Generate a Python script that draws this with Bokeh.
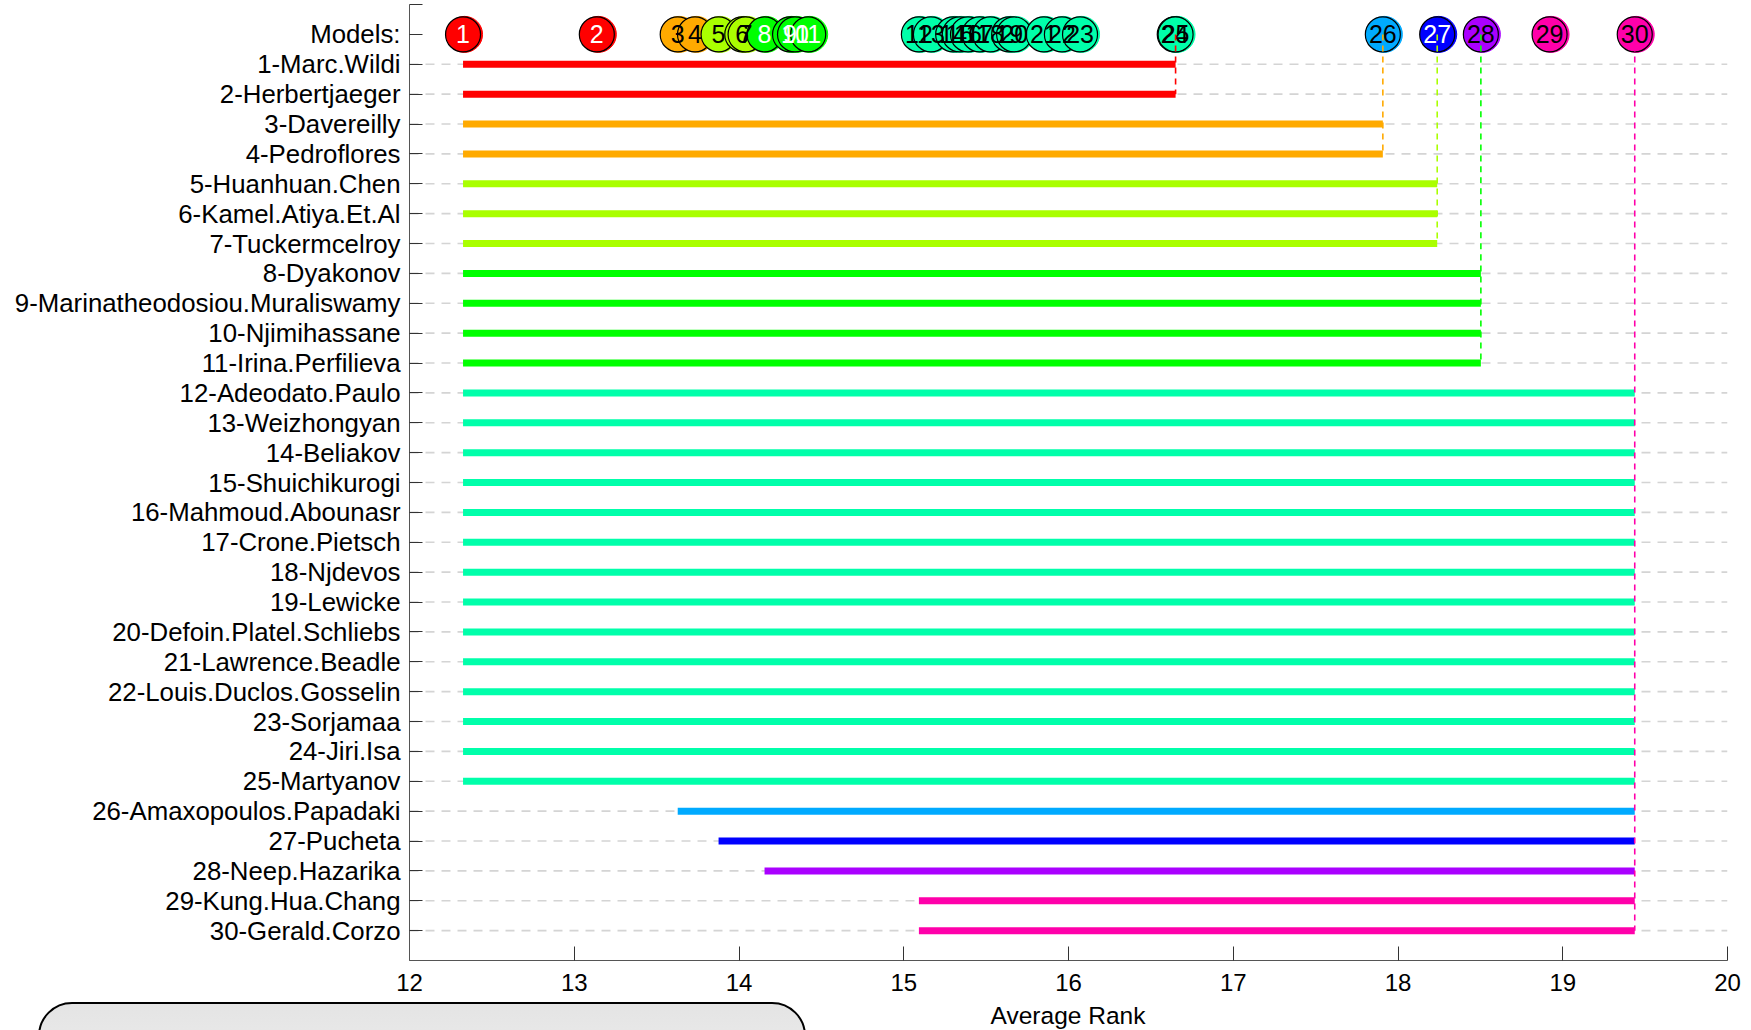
from bokeh.plotting import figure
from bokeh.layouts import column
from bokeh.models import Range1d, FixedTicker, Div
from bokeh.core.properties import value
from bokeh.embed import file_html
from bokeh.resources import INLINE

# Models and their average ranks
model_names = [
    "Marc.Wildi", "Herbertjaeger", "Davereilly", "Pedroflores", "Huanhuan.Chen",
    "Kamel.Atiya.Et.Al", "Tuckermcelroy", "Dyakonov", "Marinatheodosiou.Muraliswamy",
    "Njimihassane", "Irina.Perfilieva", "Adeodato.Paulo", "Weizhongyan", "Beliakov",
    "Shuichikurogi", "Mahmoud.Abounasr", "Crone.Pietsch", "Njdevos", "Lewicke",
    "Defoin.Platel.Schliebs", "Lawrence.Beadle", "Louis.Duclos.Gosselin", "Sorjamaa",
    "Jiri.Isa", "Martyanov", "Amaxopoulos.Papadaki", "Pucheta", "Neep.Hazarika",
    "Kung.Hua.Chang", "Gerald.Corzo",
]
avg_rank = [
    12.325, 13.137, 13.628, 13.733, 13.876, 14.020, 14.040, 14.155, 14.310, 14.340,
    14.420, 15.092, 15.165, 15.300, 15.340, 15.390, 15.460, 15.525, 15.640, 15.670,
    15.850, 15.960, 16.070, 16.645, 16.650, 17.908, 18.238, 18.503, 18.920, 19.437,
]
# Range of models not significantly different from each row's model
bar_from_model = [1] * 25 + [3, 5, 8, 12, 12]
bar_to_model = [25, 25, 26, 26, 27, 27, 27, 28, 28, 28, 28] + [30] * 19

model_colors = (
    ["#FF0000"] * 2 + ["#FFAA00"] * 2 + ["#AAFF00"] * 3 + ["#00FF00"] * 4
    + ["#00FFAA"] * 14 + ["#00AAFF", "#0000FF", "#AA00FF"] + ["#FF00AA"] * 2
)
number_colors = (
    ["white"] * 2 + ["black"] * 5 + ["white"] * 4 + ["black"] * 15
    + ["white"] + ["black"] * 3
)
x_ticks = [12, 13, 14, 15, 16, 17, 18, 19, 20]
x_title = "Average Rank"

FONT = "Liberation Sans"
X_LO, X_HI = 12, 20
W = 1751
LEFT, RIGHT, TOP, BOTTOM = 409, 24, 4, 42
FRAME_W, FRAME_H = W - LEFT - RIGHT, 956
n = len(model_names)
rows = list(range(1, n + 1))

p = figure(
    frame_width=FRAME_W, frame_height=FRAME_H,
    min_border_left=LEFT, min_border_right=RIGHT, min_border_top=TOP,
    min_border_bottom=BOTTOM,
    x_range=Range1d(X_LO, X_HI), y_range=Range1d(n + 1, -1),
    output_backend="svg", toolbar_location=None, tools="",
    background_fill_color="white", border_fill_color="white",
)
p.outline_line_color = None
p.xgrid.visible = False
p.ygrid.visible = False

# dashed row guides
p.segment(x0=[X_LO] * n, x1=[X_HI] * n, y0=rows, y1=rows,
          line_color="#d4d4d4", line_width=1.6, line_dash="9 7")

# bars spanning each model's group
bar_x0 = [avg_rank[m - 1] for m in bar_from_model]
bar_x1 = [avg_rank[m - 1] for m in bar_to_model]
p.segment(x0=bar_x0, x1=bar_x1, y0=rows, y1=rows,
          line_color=model_colors, line_width=7, line_cap="butt")

# rank markers on the "Models:" row
px = (X_HI - X_LO) / FRAME_W
p.scatter(x=[r + 1.5 * px for r in avg_rank], y=[0] * n, size=36,
          fill_color=model_colors, line_color=model_colors, line_width=1)
p.scatter(x=avg_rank, y=[0] * n, size=35,
          fill_color=model_colors, line_color="black", line_width=1.2)
p.text(x=avg_rank, y=[0] * n, text=[str(i) for i in rows],
       text_color=number_colors, text_font=value(FONT), text_font_size="25px",
       text_align="center", text_baseline="middle")

# vertical connectors from the marker of each group's upper bound
ends = {}
for r, m in zip(rows, bar_to_model):
    ends[m] = r
conn_x = [avg_rank[m - 1] for m in ends]
conn_y1 = list(ends.values())
conn_col = [model_colors[r - 1] for r in conn_y1]
p.segment(x0=conn_x, x1=conn_x, y0=[0] * len(conn_x), y1=conn_y1,
          line_color=conn_col, line_width=1.6, line_dash="6 5")

# axes
xa = p.xaxis[0]
xa.ticker = FixedTicker(ticks=x_ticks)
xa.major_tick_in = 14
xa.major_tick_out = 0
xa.minor_tick_line_color = None
xa.axis_line_color = "#555555"
xa.major_tick_line_color = "#333333"
xa.major_label_text_font = FONT
xa.major_label_text_font_size = "24px"
xa.major_label_text_color = "black"
xa.major_label_standoff = 13

ya = p.yaxis[0]
ya.ticker = FixedTicker(ticks=list(range(-1, n + 1)))
overrides = {-1: "", 0: "Models:", n + 1: ""}
for i, name in enumerate(model_names, start=1):
    overrides[i] = f"{i}-{name}"
ya.major_label_overrides = overrides
ya.major_tick_in = 13
ya.major_tick_out = 0
ya.minor_tick_line_color = None
ya.axis_line_color = "#555555"
ya.major_tick_line_color = "#333333"
ya.major_label_text_font = FONT
ya.major_label_text_font_size = "25.8px"
ya.major_label_text_color = "black"
ya.major_label_standoff = 9

# strip under the chart: x-axis title and the rounded legend panel
STRIP_H = 1030 - (TOP + FRAME_H + BOTTOM)
title_center = LEFT + FRAME_W / 2
strip_html = (
    f'<div style="position:relative;width:{W}px;height:{STRIP_H}px;">'
    f'<div style="position:absolute;left:0px;top:0px;width:{W}px;height:{STRIP_H}px;'
    'overflow:hidden;">'
    '<div style="position:absolute;left:38px;top:0px;width:768px;height:90px;'
    'box-sizing:border-box;border:2px solid #000;border-radius:34px;'
    'background:linear-gradient(#e4e4e4,#efefef);"></div>'
    '</div>'
    f'<div style="position:absolute;left:{title_center - 150:.0f}px;top:0px;width:300px;'
    f'text-align:center;font-family:\'{FONT}\';font-size:24.5px;line-height:{STRIP_H}px;'
    f'color:#000;white-space:nowrap;">{x_title}</div>'
    '</div>'
)
strip = Div(text=strip_html, width=W, height=STRIP_H, margin=0)

layout = column(p, strip, spacing=0)
open("out.html", "w").write(file_html(layout, INLINE))
